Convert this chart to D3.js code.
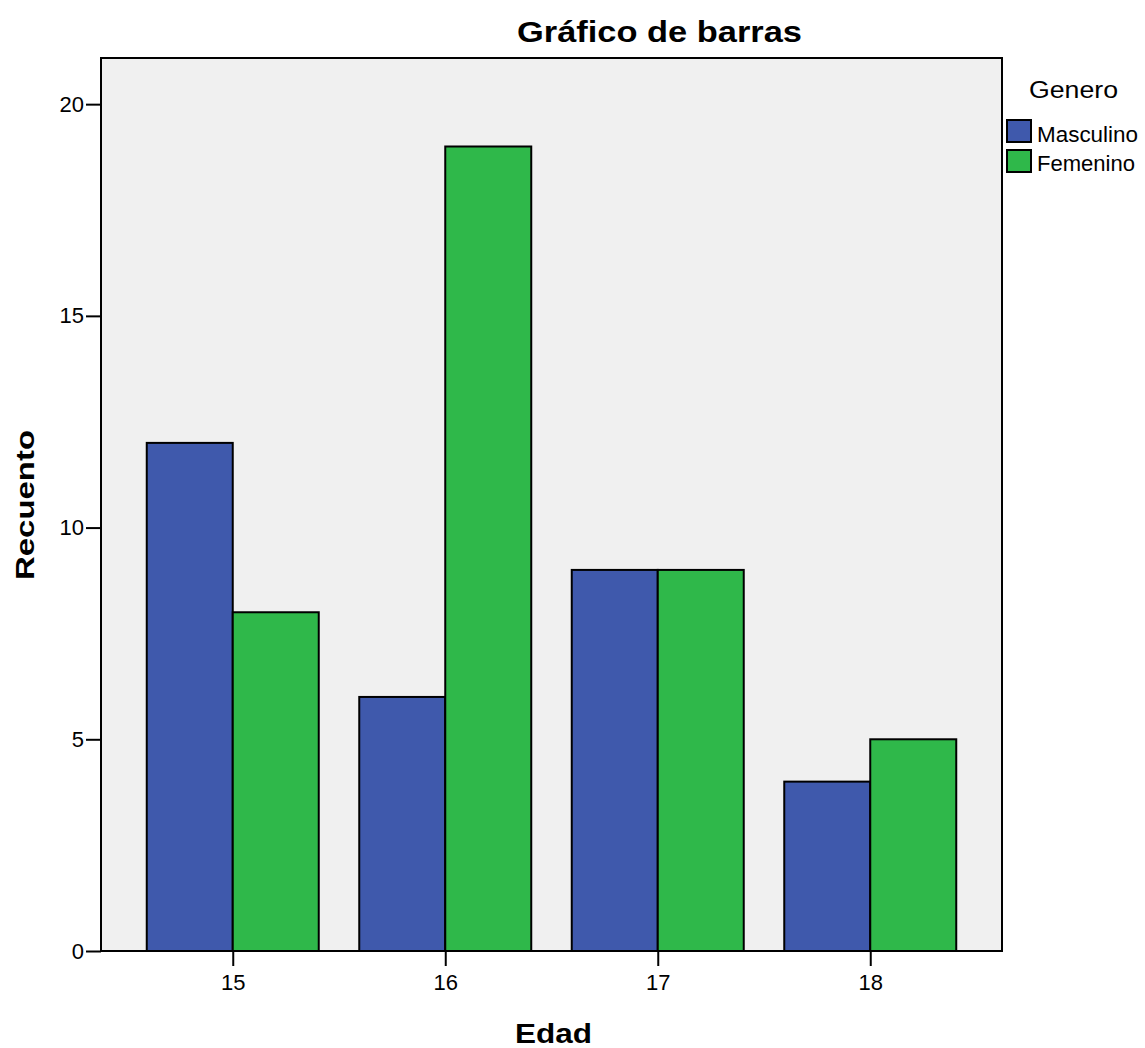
<!DOCTYPE html>
<html><head><meta charset="utf-8">
<script src="https://cdn.jsdelivr.net/npm/d3@7"></script>
<style>body{margin:0;background:#fff;} svg{display:block;font-family:"Liberation Sans",Arial,sans-serif;}</style>
</head><body>
<script>
const edades = ["15","16","17","18"];
const series = ["Masculino","Femenino"];
const masculino = [12, 6, 9, 4];
const femenino = [8, 19, 9, 5];
const yTicks = [0, 5, 10, 15, 20];
const colors = ["#3f59ac", "#2fb84a"];

const W = 1145, H = 1048;
const L = 101, R = 1002, T = 58, B = 951;
const FONT = "Liberation Sans, Arial, sans-serif";
const svg = d3.select("body").append("svg").attr("width", W).attr("height", H);

const y = d3.scaleLinear().domain([0, 21.09]).range([B, T]);
const x = d3.scalePoint().domain(edades).range([L, R]).padding(0.62);
const sub = d3.scaleBand().domain(series).range([-86, 86]).padding(0);

svg.append("rect").attr("x", L).attr("y", T).attr("width", R - L).attr("height", B - T)
  .attr("fill", "#f0f0f0").attr("stroke", "#000").attr("stroke-width", 2);

const data = edades.map((e, i) => ({e, vals: [masculino[i], femenino[i]]}));
const g = svg.append("g");
data.forEach(d => {
  d.vals.forEach((v, j) => {
    g.append("rect")
      .attr("x", x(d.e) + sub(series[j]))
      .attr("y", y(v))
      .attr("width", sub.bandwidth())
      .attr("height", y(0) - y(v))
      .attr("fill", colors[j]).attr("stroke", "#000").attr("stroke-width", 2);
  });
});

const yAxis = svg.append("g").attr("transform", `translate(${L},0)`)
  .call(d3.axisLeft(y).tickValues(yTicks).tickSize(15).tickPadding(2).tickFormat(d3.format("d")));
yAxis.attr("font-size", 22).attr("font-family", FONT);
yAxis.select(".domain").remove();
yAxis.selectAll("line").attr("stroke", "#000").attr("stroke-width", 2);
yAxis.selectAll("text").attr("fill", "#000");

const xAxis = svg.append("g").attr("transform", `translate(0,${B})`)
  .call(d3.axisBottom(x).tickSize(15).tickPadding(8));
xAxis.attr("font-size", 22).attr("font-family", FONT);
xAxis.select(".domain").remove();
xAxis.selectAll("line").attr("stroke", "#000").attr("stroke-width", 2);
xAxis.selectAll("text").attr("fill", "#000");

svg.append("line").attr("x1", L).attr("x2", R).attr("y1", B).attr("y2", B).attr("stroke", "#000").attr("stroke-width", 2);

svg.append("text").attr("x", 517).attr("y", 42)
  .attr("font-size", 29).attr("font-weight", "bold")
  .attr("textLength", 285).attr("lengthAdjust", "spacingAndGlyphs").text("Gráfico de barras");
svg.append("text").attr("x", 515).attr("y", 1043)
  .attr("font-size", 28).attr("font-weight", "bold")
  .attr("textLength", 77).attr("lengthAdjust", "spacingAndGlyphs").text("Edad");
svg.append("text").attr("transform", "translate(34,580) rotate(-90)")
  .attr("font-size", 25).attr("font-weight", "bold")
  .attr("textLength", 150).attr("lengthAdjust", "spacingAndGlyphs").text("Recuento");

svg.append("text").attr("x", 1029).attr("y", 98)
  .attr("font-size", 23).attr("textLength", 89).attr("lengthAdjust", "spacingAndGlyphs").text("Genero");
const legendW = [101, 98];
series.forEach((s, j) => {
  svg.append("rect").attr("x", 1007).attr("y", 120 + j * 30).attr("width", 24).attr("height", 22)
    .attr("fill", colors[j]).attr("stroke", "#000").attr("stroke-width", 2);
  svg.append("text").attr("x", 1037).attr("y", 142 + j * 29).attr("font-size", 22)
    .attr("textLength", legendW[j]).attr("lengthAdjust", "spacingAndGlyphs").text(s);
});
</script>
</body></html>
